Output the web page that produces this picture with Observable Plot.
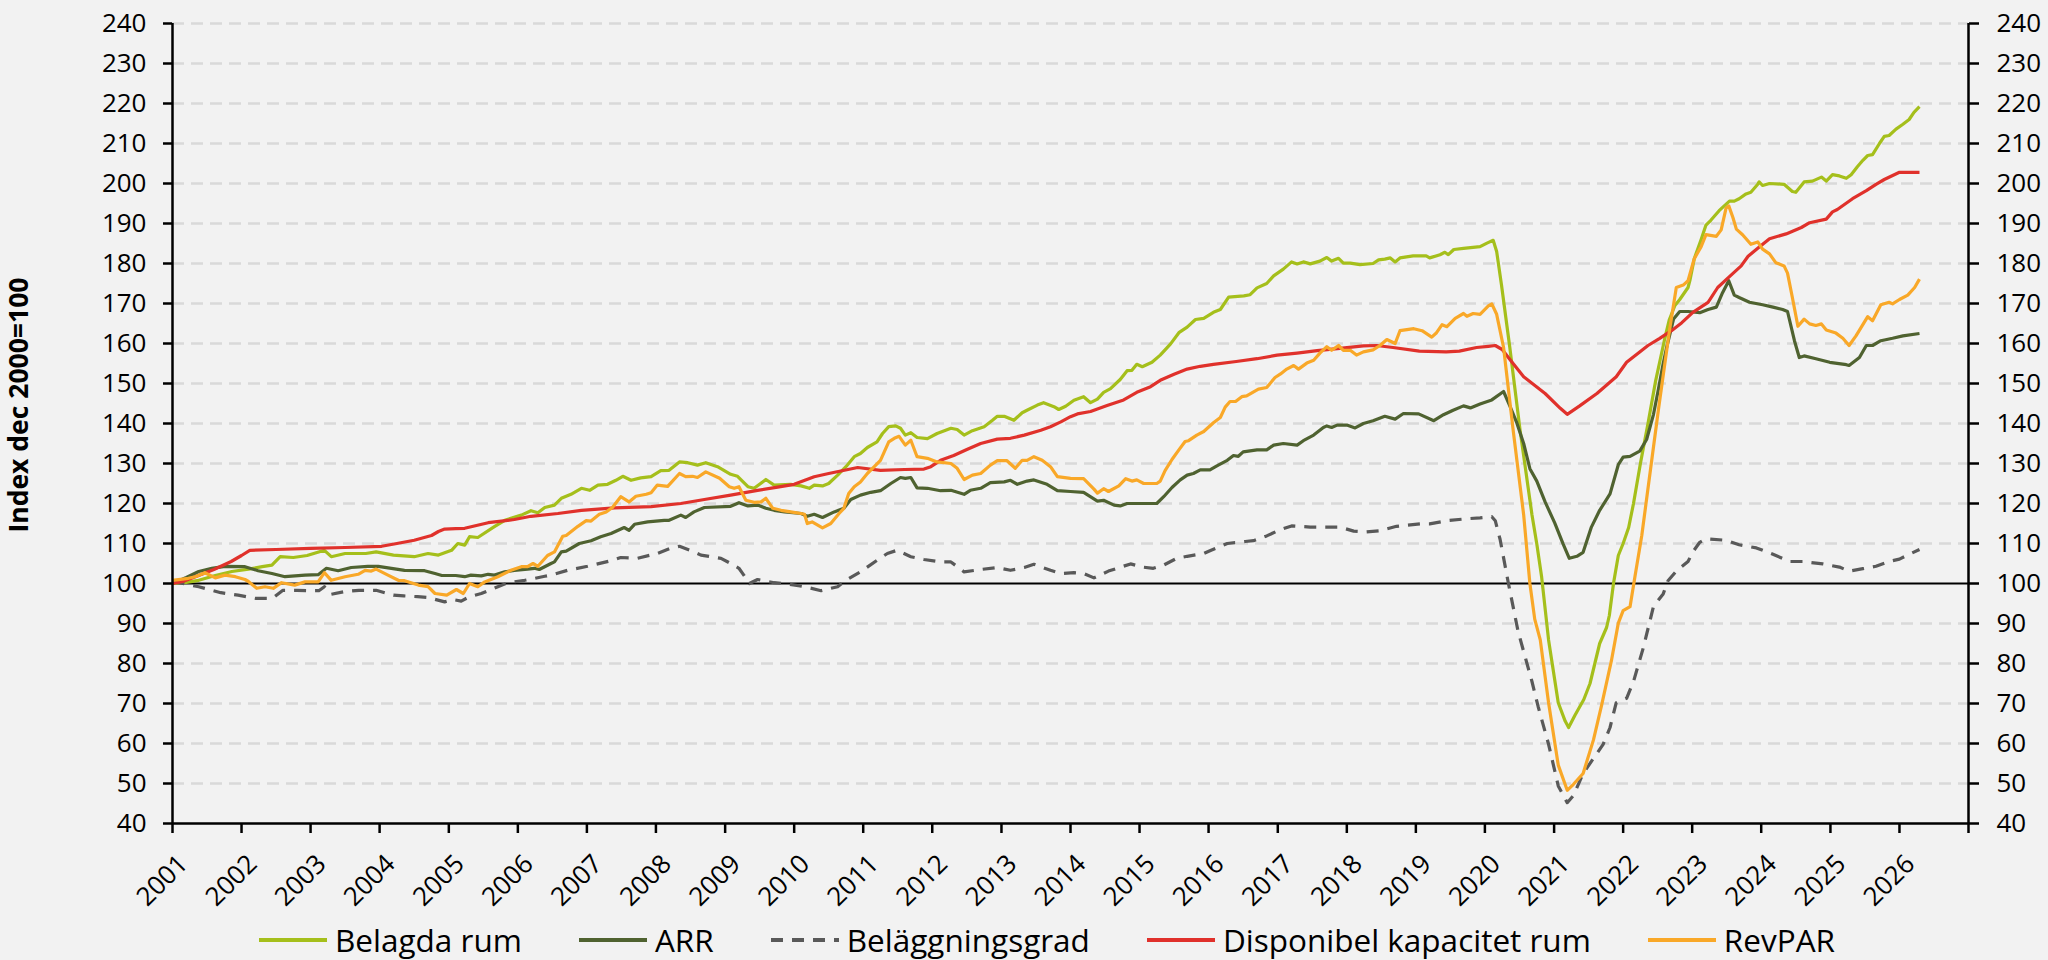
<!DOCTYPE html>
<html>
<head>
<meta charset="utf-8">
<script src="https://cdn.jsdelivr.net/npm/d3@7"></script>
<script src="https://cdn.jsdelivr.net/npm/@observablehq/plot@0.6"></script>
<style>
  html, body { margin: 0; padding: 0; background: #f2f2f2; }
  #wrap { position: relative; width: 2048px; height: 960px; background: #f2f2f2; overflow: hidden; }
  #ytitle { position: absolute; left: 18px; top: 405px; transform: translate(-50%, -50%) rotate(-90deg);
    font-family: "Open Sans", sans-serif; font-weight: 700; font-size: 26.5px; line-height: 30px; color: #000; white-space: nowrap; }
  #legend { position: absolute; left: 259px; top: 924px; height: 32px; display: flex; align-items: center;
    font-family: "Open Sans", sans-serif; font-size: 31.5px; color: #000; white-space: nowrap; }
  .item { display: flex; align-items: center; margin-right: 57px; height: 32px; }
  .item svg { margin-right: 8px; display: block; }
  .item span { display: inline-block; line-height: 30px; height: 30px; }
</style>
</head>
<body>
<div id="wrap">
  <div id="chart"></div>
  <div id="ytitle">Index dec 2000=100</div>
  <div id="legend"></div>
</div>
<script>
// ---- Data (decimal year, index value) ----
const seriesNames = ["Belagda rum", "ARR", "Beläggningsgrad", "Disponibel kapacitet rum", "RevPAR"];
const seriesColors = ["#a5bf1b", "#4f6230", "#595959", "#e0312b", "#f9a828"];

const belagdaRum = [[2001.00,100.0],[2001.20,100.3],[2001.38,100.8],[2001.62,102.0],[2001.86,103.0],[2002.10,103.6],[2002.30,104.2],[2002.44,104.6],[2002.56,106.7],[2002.75,106.5],[2002.95,107.0],[2003.20,108.3],[2003.30,106.7],[2003.50,107.5],[2003.80,107.5],[2003.95,107.9],[2004.20,107.1],[2004.50,106.7],[2004.70,107.5],[2004.85,107.1],[2005.04,108.3],[2005.13,110.0],[2005.23,109.6],[2005.30,111.7],[2005.42,111.5],[2005.66,114.2],[2005.81,115.8],[2006.05,117.1],[2006.19,118.2],[2006.29,117.7],[2006.39,119.0],[2006.53,119.6],[2006.63,121.3],[2006.77,122.3],[2006.92,123.8],[2007.04,123.3],[2007.16,124.6],[2007.30,124.8],[2007.42,125.8],[2007.52,126.8],[2007.64,125.8],[2007.78,126.4],[2007.93,126.7],[2008.07,128.2],[2008.19,128.3],[2008.34,130.4],[2008.46,130.2],[2008.60,129.6],[2008.72,130.2],[2008.89,129.2],[2009.08,127.3],[2009.18,126.8],[2009.33,124.2],[2009.42,123.8],[2009.59,126.0],[2009.71,124.6],[2009.95,124.8],[2010.10,124.4],[2010.22,123.8],[2010.29,124.6],[2010.41,124.4],[2010.50,125.0],[2010.63,127.1],[2010.75,129.2],[2010.87,131.7],[2010.96,132.5],[2011.06,134.0],[2011.20,135.4],[2011.28,137.5],[2011.37,139.2],[2011.47,139.4],[2011.54,138.8],[2011.61,137.1],[2011.69,137.7],[2011.78,136.5],[2011.93,136.2],[2012.07,137.5],[2012.27,138.8],[2012.36,138.5],[2012.46,137.1],[2012.58,138.2],[2012.75,139.2],[2012.87,140.8],[2012.94,141.8],[2013.04,141.8],[2013.18,140.8],[2013.30,142.7],[2013.37,143.3],[2013.52,144.6],[2013.61,145.2],[2013.76,144.2],[2013.83,143.5],[2013.93,144.3],[2014.05,145.8],[2014.19,146.7],[2014.29,145.2],[2014.39,146.1],[2014.48,147.8],[2014.58,148.7],[2014.72,151.0],[2014.82,153.2],[2014.89,153.3],[2014.96,154.8],[2015.04,154.2],[2015.18,155.3],[2015.30,157.1],[2015.45,159.9],[2015.57,162.7],[2015.69,164.1],[2015.81,166.0],[2015.93,166.3],[2016.07,167.8],[2016.17,168.5],[2016.29,171.6],[2016.51,171.9],[2016.60,172.2],[2016.70,173.9],[2016.84,175.0],[2016.94,176.9],[2017.08,178.6],[2017.20,180.4],[2017.28,179.9],[2017.37,180.4],[2017.47,179.9],[2017.61,180.6],[2017.71,181.5],[2017.78,180.6],[2017.88,181.3],[2017.95,180.1],[2018.05,180.1],[2018.19,179.7],[2018.38,180.0],[2018.46,180.9],[2018.55,181.1],[2018.63,181.4],[2018.70,180.4],[2018.77,181.4],[2018.96,181.9],[2019.15,181.9],[2019.20,181.4],[2019.35,182.2],[2019.42,182.8],[2019.47,182.2],[2019.55,183.5],[2019.69,183.8],[2019.93,184.2],[2020.03,185.1],[2020.12,185.8],[2020.17,183.0],[2020.24,174.6],[2020.36,159.0],[2020.51,138.1],[2020.68,117.2],[2020.75,109.9],[2020.82,101.6],[2020.92,85.9],[2021.06,70.2],[2021.16,65.6],[2021.21,64.0],[2021.30,67.0],[2021.43,71.0],[2021.52,75.0],[2021.59,80.0],[2021.66,85.0],[2021.76,89.0],[2021.80,92.0],[2021.86,100.0],[2021.93,107.0],[2022.00,110.0],[2022.08,114.0],[2022.15,120.0],[2022.25,130.0],[2022.36,140.0],[2022.47,150.6],[2022.60,161.0],[2022.67,166.0],[2022.75,169.5],[2022.82,171.0],[2022.94,174.0],[2022.97,176.0],[2023.03,181.2],[2023.13,186.0],[2023.20,189.6],[2023.27,190.8],[2023.39,193.2],[2023.54,195.6],[2023.61,195.6],[2023.68,196.2],[2023.78,197.4],[2023.85,197.8],[2023.95,199.8],[2023.97,200.4],[2024.02,199.5],[2024.12,200.0],[2024.33,199.8],[2024.45,198.0],[2024.50,197.8],[2024.62,200.4],[2024.74,200.6],[2024.87,201.6],[2024.94,200.6],[2025.03,202.2],[2025.13,201.9],[2025.23,201.3],[2025.30,202.2],[2025.39,204.2],[2025.47,205.8],[2025.54,207.0],[2025.61,207.2],[2025.71,210.0],[2025.78,211.8],[2025.85,212.0],[2025.95,213.6],[2026.05,214.8],[2026.14,216.0],[2026.21,217.8],[2026.29,219.2]];

const arr = [[2001.00,100.0],[2001.20,101.5],[2001.38,103.0],[2001.57,103.8],[2001.76,104.3],[2002.05,104.2],[2002.24,103.2],[2002.44,102.5],[2002.63,101.7],[2002.92,102.1],[2003.11,102.2],[2003.23,103.8],[2003.40,103.2],[2003.59,104.0],[2003.83,104.3],[2003.98,104.3],[2004.17,103.8],[2004.36,103.3],[2004.65,103.2],[2004.80,102.5],[2004.90,102.0],[2005.10,102.0],[2005.23,101.7],[2005.32,102.1],[2005.47,101.9],[2005.57,102.3],[2005.66,102.1],[2005.81,102.9],[2005.95,103.3],[2006.14,103.6],[2006.24,103.8],[2006.31,103.5],[2006.48,105.0],[2006.53,105.4],[2006.63,107.9],[2006.70,108.1],[2006.89,110.0],[2007.06,110.7],[2007.20,111.7],[2007.35,112.5],[2007.54,114.0],[2007.61,113.3],[2007.69,114.8],[2007.88,115.4],[2008.12,115.8],[2008.19,115.8],[2008.36,117.1],[2008.43,116.5],[2008.55,117.9],[2008.70,119.0],[2009.08,119.3],[2009.20,120.2],[2009.33,119.4],[2009.47,119.6],[2009.59,118.8],[2009.71,118.3],[2009.86,117.9],[2010.10,117.5],[2010.19,116.8],[2010.29,117.3],[2010.41,116.5],[2010.58,117.9],[2010.72,118.8],[2010.82,121.0],[2010.96,122.1],[2011.11,122.8],[2011.25,123.2],[2011.40,125.0],[2011.54,126.5],[2011.61,126.3],[2011.69,126.5],[2011.78,123.9],[2011.93,123.8],[2012.12,123.2],[2012.27,123.3],[2012.46,122.3],[2012.55,123.3],[2012.70,123.8],[2012.84,125.2],[2013.04,125.4],[2013.13,125.8],[2013.23,124.8],[2013.37,125.6],[2013.47,125.9],[2013.66,124.8],[2013.81,123.2],[2014.00,123.0],[2014.19,122.8],[2014.39,120.6],[2014.48,120.8],[2014.63,119.6],[2014.72,119.4],[2014.82,120.0],[2015.00,120.0],[2015.25,120.0],[2015.35,121.7],[2015.47,124.0],[2015.59,125.9],[2015.69,127.1],[2015.78,127.5],[2015.88,128.4],[2016.02,128.4],[2016.12,129.4],[2016.27,130.8],[2016.36,132.0],[2016.43,131.8],[2016.50,132.9],[2016.70,133.4],[2016.84,133.4],[2016.94,134.6],[2017.08,135.0],[2017.28,134.6],[2017.37,135.7],[2017.52,137.1],[2017.66,139.0],[2017.71,139.4],[2017.78,139.0],[2017.86,139.6],[2018.00,139.6],[2018.12,138.9],[2018.24,140.0],[2018.38,140.7],[2018.55,141.8],[2018.70,141.1],[2018.82,142.5],[2019.04,142.4],[2019.26,140.7],[2019.40,142.2],[2019.54,143.3],[2019.69,144.4],[2019.79,143.9],[2019.93,144.9],[2020.10,145.9],[2020.27,148.0],[2020.36,144.4],[2020.46,140.2],[2020.56,135.0],[2020.65,128.7],[2020.75,125.6],[2020.87,120.4],[2021.01,115.1],[2021.13,109.9],[2021.22,106.3],[2021.33,106.8],[2021.42,107.8],[2021.54,114.1],[2021.66,118.3],[2021.81,122.4],[2021.93,129.7],[2022.00,131.6],[2022.10,131.8],[2022.24,133.1],[2022.34,136.0],[2022.44,142.3],[2022.51,148.5],[2022.58,155.0],[2022.63,159.0],[2022.73,166.1],[2022.82,168.0],[2022.94,168.0],[2023.11,167.7],[2023.23,168.5],[2023.35,169.1],[2023.44,172.7],[2023.53,175.7],[2023.61,172.1],[2023.68,171.5],[2023.83,170.3],[2024.02,169.7],[2024.17,169.1],[2024.31,168.5],[2024.38,168.0],[2024.48,160.7],[2024.55,156.5],[2024.62,156.9],[2024.79,156.2],[2024.99,155.3],[2025.23,154.7],[2025.27,154.5],[2025.42,156.5],[2025.52,159.5],[2025.61,159.5],[2025.73,160.7],[2025.90,161.3],[2026.05,161.9],[2026.29,162.5]];

const belaggningsgrad = [[2001.00,100.4],[2001.15,100.0],[2001.38,99.2],[2001.70,97.7],[2001.95,97.1],[2002.20,96.3],[2002.45,96.3],[2002.60,98.3],[2002.80,98.3],[2003.00,98.2],[2003.12,98.2],[2003.20,99.2],[2003.30,97.3],[2003.50,98.0],[2003.70,98.3],[2003.95,98.3],[2004.20,97.1],[2004.35,96.9],[2004.55,96.7],[2004.70,96.5],[2004.94,95.4],[2005.05,96.0],[2005.18,95.6],[2005.30,96.7],[2005.47,97.5],[2005.71,99.2],[2005.86,100.2],[2006.10,100.8],[2006.39,101.8],[2006.48,102.1],[2006.72,103.3],[2007.01,104.3],[2007.13,104.8],[2007.35,105.7],[2007.49,106.5],[2007.73,106.3],[2008.02,107.5],[2008.21,108.8],[2008.34,109.3],[2008.55,107.9],[2008.65,107.1],[2008.94,106.3],[2009.08,105.0],[2009.20,103.8],[2009.27,102.1],[2009.35,100.0],[2009.47,101.0],[2009.71,100.2],[2009.86,100.0],[2010.15,99.2],[2010.39,98.2],[2010.63,99.2],[2010.75,100.8],[2010.96,102.9],[2011.20,105.8],[2011.35,107.5],[2011.49,108.3],[2011.69,106.7],[2011.88,106.0],[2012.12,105.4],[2012.27,105.4],[2012.46,102.9],[2012.70,103.5],[2012.94,104.0],[2013.13,103.3],[2013.33,104.0],[2013.47,104.8],[2013.71,103.3],[2013.86,102.5],[2014.05,102.7],[2014.19,102.5],[2014.34,101.4],[2014.55,103.1],[2014.87,104.9],[2015.04,104.1],[2015.20,103.8],[2015.35,104.6],[2015.54,106.3],[2015.69,106.8],[2015.93,107.5],[2016.02,108.2],[2016.27,110.0],[2016.53,110.5],[2016.65,110.7],[2016.84,111.9],[2017.04,113.5],[2017.20,114.4],[2017.47,114.1],[2017.71,114.1],[2017.90,114.1],[2018.10,113.1],[2018.27,112.9],[2018.48,113.2],[2018.72,114.3],[2019.06,114.9],[2019.20,114.9],[2019.45,115.7],[2019.74,116.2],[2019.93,116.4],[2020.10,116.7],[2020.15,115.7],[2020.22,111.0],[2020.34,100.0],[2020.48,88.0],[2020.68,75.5],[2020.77,69.2],[2020.92,59.8],[2021.06,49.4],[2021.19,45.2],[2021.28,47.0],[2021.42,52.5],[2021.71,59.8],[2021.81,64.0],[2021.90,70.2],[2022.05,71.3],[2022.15,75.5],[2022.29,83.8],[2022.44,94.3],[2022.58,97.4],[2022.65,100.7],[2022.77,103.1],[2022.94,105.5],[2023.01,107.9],[2023.11,110.3],[2023.20,111.2],[2023.49,110.8],[2023.68,109.7],[2023.93,108.9],[2024.17,107.3],[2024.41,105.5],[2024.60,105.5],[2024.89,104.9],[2025.13,104.1],[2025.27,103.1],[2025.47,103.7],[2025.66,104.3],[2025.85,105.5],[2026.00,106.1],[2026.14,107.3],[2026.29,108.5]];

const disponibelKapacitet = [[2001.00,100.0],[2001.15,100.5],[2001.35,101.8],[2001.60,103.5],[2001.85,105.5],[2002.00,107.0],[2002.12,108.3],[2002.50,108.5],[2003.00,108.8],[2003.50,109.0],[2004.03,109.3],[2004.25,110.0],[2004.50,110.8],[2004.75,112.0],[2004.85,113.0],[2004.94,113.6],[2005.10,113.7],[2005.23,113.8],[2005.57,115.2],[2005.95,116.0],[2006.19,116.8],[2006.58,117.5],[2006.92,118.3],[2007.40,118.9],[2007.93,119.2],[2008.36,120.0],[2008.70,121.0],[2009.08,122.1],[2009.47,123.3],[2009.76,124.1],[2010.00,124.8],[2010.29,126.7],[2010.50,127.5],[2010.92,129.0],[2011.25,128.3],[2011.60,128.5],[2011.88,128.6],[2011.98,129.2],[2012.12,130.8],[2012.31,132.0],[2012.50,133.5],[2012.70,135.0],[2012.94,136.1],[2013.13,136.3],[2013.33,137.1],[2013.57,138.3],[2013.71,139.2],[2013.86,140.4],[2014.00,141.7],[2014.10,142.4],[2014.29,143.0],[2014.53,144.5],[2014.77,145.9],[2014.96,147.8],[2015.16,149.2],[2015.30,150.8],[2015.50,152.3],[2015.69,153.6],[2015.88,154.3],[2016.07,154.8],[2016.40,155.5],[2016.70,156.2],[2016.99,157.1],[2017.28,157.6],[2017.57,158.2],[2017.90,158.8],[2018.24,159.4],[2018.43,159.5],[2018.67,159.0],[2019.05,158.1],[2019.44,157.9],[2019.63,158.1],[2019.88,159.0],[2020.05,159.3],[2020.15,159.5],[2020.25,158.5],[2020.37,155.8],[2020.56,151.7],[2020.87,147.5],[2021.09,143.8],[2021.19,142.3],[2021.37,144.4],[2021.62,147.5],[2021.90,151.7],[2022.05,155.3],[2022.24,157.9],[2022.36,159.5],[2022.53,161.3],[2022.70,163.2],[2022.85,165.2],[2023.01,167.8],[2023.23,170.3],[2023.37,174.0],[2023.52,176.4],[2023.71,179.4],[2023.81,181.8],[2023.95,183.8],[2024.12,186.2],[2024.36,187.4],[2024.58,189.0],[2024.70,190.2],[2024.94,191.1],[2025.03,192.9],[2025.10,193.5],[2025.32,196.2],[2025.52,198.2],[2025.66,199.8],[2025.78,201.0],[2026.00,202.8],[2026.29,202.8]];

const revpar = [[2001.00,100.8],[2001.23,101.3],[2001.33,101.7],[2001.47,102.7],[2001.62,101.4],[2001.76,102.1],[2001.91,101.7],[2002.05,101.0],[2002.10,100.5],[2002.22,98.8],[2002.34,99.2],[2002.46,98.8],[2002.58,100.2],[2002.77,99.6],[2002.92,100.4],[2003.11,100.4],[2003.20,102.7],[2003.30,100.8],[2003.50,101.7],[2003.69,102.3],[2003.79,103.3],[2003.88,103.1],[2003.95,103.6],[2004.12,102.1],[2004.27,100.8],[2004.36,100.7],[2004.56,99.6],[2004.70,99.2],[2004.80,97.5],[2004.97,97.1],[2005.11,98.5],[2005.21,97.5],[2005.30,100.0],[2005.42,99.2],[2005.52,100.4],[2005.71,101.7],[2005.90,103.3],[2006.05,104.2],[2006.14,104.2],[2006.22,105.0],[2006.29,104.3],[2006.43,107.0],[2006.53,107.9],[2006.65,111.8],[2006.70,112.0],[2006.87,114.3],[2006.99,115.7],[2007.06,115.6],[2007.18,117.3],[2007.28,117.9],[2007.37,119.0],[2007.49,121.7],[2007.61,120.4],[2007.71,121.8],[2007.86,122.3],[2007.93,122.7],[2008.02,124.6],[2008.17,124.3],[2008.34,127.5],[2008.43,126.7],[2008.53,126.8],[2008.60,126.5],[2008.72,127.9],[2008.92,126.3],[2009.06,124.2],[2009.13,123.8],[2009.20,124.2],[2009.30,120.8],[2009.42,120.3],[2009.52,120.4],[2009.59,121.3],[2009.69,118.8],[2009.81,118.3],[2009.95,117.9],[2010.10,117.5],[2010.15,117.3],[2010.19,115.0],[2010.26,115.4],[2010.41,113.9],[2010.53,115.0],[2010.65,117.5],[2010.72,118.8],[2010.79,122.5],[2010.87,124.2],[2010.96,125.4],[2011.06,127.5],[2011.16,129.2],[2011.25,130.8],[2011.37,135.4],[2011.45,136.3],[2011.52,136.8],[2011.61,134.6],[2011.69,135.8],[2011.78,131.7],[2011.93,131.3],[2012.07,130.4],[2012.27,130.0],[2012.36,128.8],[2012.46,126.0],[2012.58,127.1],[2012.70,127.5],[2012.84,129.6],[2012.94,130.7],[2013.08,130.7],[2013.20,128.8],[2013.30,130.8],[2013.37,130.8],[2013.47,131.7],[2013.59,130.8],[2013.71,129.2],[2013.81,126.7],[2014.00,126.3],[2014.19,126.2],[2014.34,123.6],[2014.39,122.6],[2014.48,123.7],[2014.55,123.0],[2014.70,124.4],[2014.80,126.2],[2014.89,125.6],[2014.96,125.9],[2015.06,125.0],[2015.25,125.0],[2015.30,125.6],[2015.37,128.2],[2015.47,131.0],[2015.57,133.4],[2015.66,135.5],[2015.71,135.7],[2015.83,137.1],[2015.93,138.0],[2016.07,140.2],[2016.17,141.5],[2016.24,144.1],[2016.31,145.5],[2016.39,145.5],[2016.48,146.7],[2016.55,146.9],[2016.72,148.6],[2016.84,149.0],[2016.96,151.5],[2017.04,152.4],[2017.13,153.6],[2017.23,154.5],[2017.30,153.6],[2017.42,155.1],[2017.52,155.8],[2017.61,157.6],[2017.71,159.2],[2017.78,158.3],[2017.88,159.5],[2017.95,158.3],[2018.05,158.3],[2018.14,157.1],[2018.24,157.9],[2018.38,158.4],[2018.48,159.5],[2018.58,161.0],[2018.70,160.0],[2018.77,163.2],[2018.97,163.7],[2019.09,163.2],[2019.23,161.6],[2019.30,162.7],[2019.38,164.7],[2019.45,164.2],[2019.57,166.3],[2019.69,167.5],[2019.74,166.8],[2019.83,167.5],[2019.93,167.3],[2020.05,169.4],[2020.10,169.9],[2020.17,167.3],[2020.27,159.0],[2020.41,138.1],[2020.56,117.2],[2020.65,100.0],[2020.72,91.1],[2020.80,85.9],[2020.92,70.2],[2021.06,54.6],[2021.19,48.3],[2021.28,49.8],[2021.42,52.5],[2021.57,60.9],[2021.69,69.7],[2021.83,80.7],[2021.93,90.1],[2022.00,93.2],[2022.10,94.2],[2022.17,101.6],[2022.27,112.0],[2022.39,127.7],[2022.51,143.3],[2022.58,152.0],[2022.67,163.1],[2022.77,174.0],[2022.87,174.6],[2022.94,175.7],[2023.03,181.2],[2023.13,184.2],[2023.20,187.2],[2023.35,186.8],[2023.42,188.4],[2023.49,193.8],[2023.53,194.4],[2023.59,191.5],[2023.64,188.6],[2023.73,187.2],[2023.85,184.8],[2023.95,185.4],[2024.02,183.6],[2024.12,182.4],[2024.21,180.2],[2024.33,179.4],[2024.38,177.6],[2024.45,171.5],[2024.53,164.3],[2024.62,166.1],[2024.70,164.9],[2024.79,164.5],[2024.87,164.9],[2024.94,163.4],[2025.08,162.6],[2025.18,161.3],[2025.27,159.5],[2025.37,161.9],[2025.54,166.7],[2025.61,165.7],[2025.73,169.7],[2025.85,170.3],[2025.90,169.9],[2026.00,171.0],[2026.12,172.1],[2026.22,174.0],[2026.29,176.1]];

const yTicks = [40,50,60,70,80,90,100,110,120,130,140,150,160,170,180,190,200,210,220,230,240];
const xTickYears = [2001,2002,2003,2004,2005,2006,2007,2008,2009,2010,2011,2012,2013,2014,2015,2016,2017,2018,2019,2020,2021,2022,2023,2024,2025,2026,2027];
const xLabelYears = [2001,2002,2003,2004,2005,2006,2007,2008,2009,2010,2011,2012,2013,2014,2015,2016,2017,2018,2019,2020,2021,2022,2023,2024,2025,2026];

// ---- helpers ----
function toDate(t) {
  const y = Math.floor(t);
  const a = Date.UTC(y, 0, 1), b = Date.UTC(y + 1, 0, 1);
  return new Date(a + (t - y) * (b - a));
}
const allSeries = [belagdaRum, arr, belaggningsgrad, disponibelKapacitet, revpar];
const rows = allSeries.flatMap((s, i) => s.map(([t, v]) => ({name: seriesNames[i], date: toDate(t), v})));
const xTicks = xTickYears.map(y => new Date(Date.UTC(y, 0, 1)));
const xLabelTicks = xLabelYears.map(y => new Date(Date.UTC(y, 0, 1)));

const fontFam = "'Open Sans', sans-serif";

const lineMarks = seriesNames.map((n, i) =>
  Plot.line(rows.filter(d => d.name === n), {
    x: "date", y: "v", stroke: seriesColors[i], strokeWidth: 3.2,
    strokeDasharray: n === "Beläggningsgrad" ? "12,9" : null,
    strokeLinejoin: "round", strokeLinecap: "butt"
  })
);

const chart = Plot.plot({
  width: 2048,
  height: 905,
  marginTop: 23,
  marginBottom: 82,
  marginLeft: 172,
  marginRight: 80,
  style: {background: "transparent", fontFamily: fontFam, fontSize: "26px", color: "#000", overflow: "visible"},
  x: {type: "utc", domain: [xTicks[0], xTicks[xTicks.length - 1]]},
  y: {domain: [40, 240]},
  marks: [
    Plot.ruleY(yTicks.filter(v => v !== 100 && v !== 40), {stroke: "#d9d9d9", strokeWidth: 2.5, strokeDasharray: "12,7"}),
    Plot.ruleY([100], {stroke: "#000", strokeWidth: 2}),
    ...lineMarks,
    Plot.ruleX([xTicks[0], xTicks[xTicks.length - 1]], {stroke: "#000", strokeWidth: 2.5}),
    Plot.ruleY([40], {stroke: "#000", strokeWidth: 2.5}),
    Plot.axisY({anchor: "left", ticks: yTicks, tickSize: 9, tickPadding: 17, label: null, fontSize: 26, tickFormat: d => String(d)}),
    Plot.axisY({anchor: "right", ticks: yTicks, tickSize: 10, tickPadding: 18, label: null, fontSize: 26, tickFormat: d => String(d)}),
    Plot.axisX({ticks: xTicks, tickSize: 10, label: null, tickFormat: () => ""}),
    Plot.axisX({ticks: xLabelTicks, tickSize: 0, tickPadding: 16, tickRotate: -45, label: null, fontSize: 26, dx: 11, dy: 20,
      tickFormat: d => String(d.getUTCFullYear())})
  ]
});
chart.querySelectorAll("[aria-label$='tick']").forEach(g => { g.setAttribute("stroke", "#000"); g.setAttribute("stroke-width", "2.5"); });
document.getElementById("chart").appendChild(chart);

// ---- legend ----
const legend = document.getElementById("legend");
seriesNames.forEach((n, i) => {
  const item = document.createElement("div");
  item.className = "item";
  const dash = n === "Beläggningsgrad" ? 'stroke-dasharray="12,9"' : "";
  item.innerHTML = `<svg width="68" height="10"><line x1="0" x2="68" y1="5" y2="5" stroke="${seriesColors[i]}" stroke-width="4" ${dash}/></svg><span>${n}</span>`;
  legend.appendChild(item);
});
</script>
</body>
</html>
